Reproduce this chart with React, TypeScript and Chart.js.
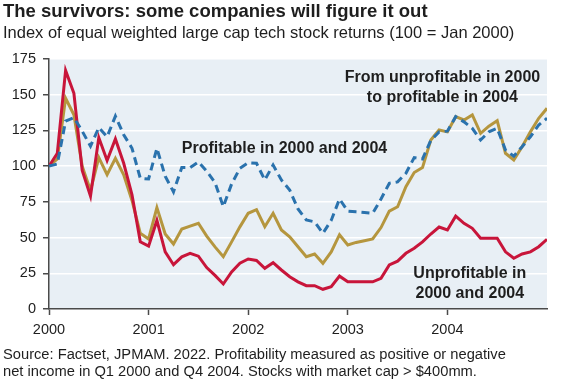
import React, { useEffect, useRef } from "react";
import { Chart, registerables } from "chart.js";

Chart.register(...registerables);

const titleText = "The survivors: some companies will figure it out";
const subtitleText = "Index of equal weighted large cap tech stock returns (100 = Jan 2000)";
const sourceLines = [
  "Source: Factset, JPMAM. 2022. Profitability measured as positive or negative",
  "net income in Q1 2000 and Q4 2004. Stocks with market cap > $400mm.",
];

const startYear = 2000;
const yearTicks = [0, 12, 24, 36, 48]; // month offsets of Jan 2000..Jan 2004
const yTicks = [0, 25, 50, 75, 100, 125, 150, 175];

// monthly index values, Jan 2000 .. Jan 2005
const profitable = [
  100, 101.5, 131.5, 134, 124.5, 114, 127, 120.5, 135, 122, 112.5, 91.5,
  91, 112.5, 93, 82, 99, 99, 103, 96.5, 88.5, 71.6, 87.5, 98.5,
  102.4, 102, 90.3, 100.8, 90.3, 83.3, 70, 62.3, 61, 53, 62, 77,
  68.5, 68, 67.5, 67, 77, 88, 89, 95, 106, 105, 118, 124,
  124.5, 134.6, 131, 126.5, 118.3, 124, 126.5, 111.3, 107, 113.6, 120.6, 128.8,
  133.5,
];
const turnedProfitable = [
  100, 105, 147.5, 136, 100, 83, 106, 94, 105.5, 94, 76, 53,
  49, 71, 52.5, 45.5, 56, 58, 60, 51, 43.5, 36.6, 47, 57.5,
  67, 69.5, 57.6, 67, 55.3, 50.6, 43.6, 36.6, 38.5, 32, 40, 52,
  44.8, 46.6, 47.8, 49, 57, 68.5, 71.6, 85.6, 95.5, 99, 118.3, 125.3,
  124, 134.6, 132.3, 135.8, 123, 128, 131.8, 109, 104.3, 113.6, 124, 133.5,
  140.5,
];
const unprofitable = [
  100, 109, 167, 151, 97, 79, 120, 104, 119, 102, 80, 47,
  44, 62, 40, 31, 36.5, 39, 37, 29, 23.5, 17.5, 26, 32,
  35, 34, 28.5, 32.4, 27.3, 22.6, 19, 16.3, 16.3, 13.8, 15.6, 23,
  19, 19, 19, 19, 21.5, 30.8, 33.5, 39, 42.5, 47, 52.5, 57.4,
  55.3, 65, 60, 56.5, 49.5, 49.5, 49.5, 40, 35.5, 38.5, 40, 43.6,
  48.8,
];

const annotations = [
  { lines: ["Profitable in 2000 and 2004"], x: 16, y: 112, align: "left" as CanvasTextAlign },
  { lines: ["From unprofitable in 2000", "to profitable in 2004"], x: 47.4, y: 161.7, align: "center" as CanvasTextAlign },
  { lines: ["Unprofitable in", "2000 and 2004"], x: 50.7, y: 24.5, align: "center" as CanvasTextAlign },
];

const FONT = "'Liberation Sans', Arial, Helvetica, sans-serif";
const TEXT = "#1e1e1e";
const AXIS = "#4a4a4a";

export default function App() {
  const ref = useRef<HTMLCanvasElement | null>(null);

  useEffect(() => {
    document.body.style.margin = "0";
    const canvas = ref.current;
    if (!canvas) return;

    const toPts = (arr: number[]) => arr.map((v, i) => ({ x: i, y: v }));

    const textPlugin = {
      id: "texts",
      beforeDraw(chart: any) {
        const { ctx, chartArea } = chart;
        ctx.save();
        ctx.fillStyle = "#e8eff5";
        ctx.fillRect(chartArea.left, chartArea.top, chartArea.right - chartArea.left, chartArea.bottom - chartArea.top);
        ctx.restore();
      },
      afterDraw(chart: any) {
        const { ctx, scales } = chart;
        ctx.save();
        ctx.fillStyle = TEXT;
        ctx.textBaseline = "middle";
        ctx.textAlign = "left";
        ctx.font = `bold 18.5px ${FONT}`;
        ctx.fillText(titleText, 3, 12);
        ctx.font = `16.5px ${FONT}`;
        ctx.fillText(subtitleText, 3, 33);
        ctx.font = `14.7px ${FONT}`;
        sourceLines.forEach((l, i) => ctx.fillText(l, 3, 355 + i * 17));

        ctx.font = `bold 16px ${FONT}`;
        annotations.forEach((a) => {
          const px = scales.x.getPixelForValue(a.x);
          const py = scales.y.getPixelForValue(a.y);
          ctx.textAlign = a.align;
          a.lines.forEach((l, i) => ctx.fillText(l, px, py + i * 19.5));
        });
        ctx.restore();
      },
    };

    const chart = new Chart(canvas, {
      type: "line",
      data: {
        datasets: [
          {
            label: "Profitable in 2000 and 2004",
            data: toPts(profitable),
            borderColor: "#2a72ad",
            borderWidth: 3,
            borderDash: [8, 5],
            pointRadius: 0,
            tension: 0,
            fill: false,
          },
          {
            label: "Unprofitable in 2000 and 2004",
            data: toPts(unprofitable),
            borderColor: "#c8153a",
            borderWidth: 3,
            pointRadius: 0,
            tension: 0,
            fill: false,
          },
          {
            label: "From unprofitable in 2000 to profitable in 2004",
            data: toPts(turnedProfitable),
            borderColor: "#b5963e",
            borderWidth: 3,
            pointRadius: 0,
            tension: 0,
            fill: false,
          },
        ],
      },
      options: {
        responsive: false,
        animation: false,
        events: [],
        layout: { padding: { top: 59, right: 30, left: 0, bottom: 0 } },
        plugins: {
          legend: { display: false },
          tooltip: { enabled: false },
          title: { display: false },
        },
        scales: {
          x: {
            type: "linear",
            min: 0,
            max: 60,
            afterFit: (s: any) => {
              s.height = 70;
            },
            afterBuildTicks: (s: any) => {
              s.ticks = yearTicks.map((v) => ({ value: v }));
            },
            ticks: {
              callback: (v: any) => String(startYear + Number(v) / 12),
              color: TEXT,
              font: { family: FONT, size: 14.5 },
              padding: 6,
              maxRotation: 0,
              autoSkip: false,
            },
            grid: {
              drawOnChartArea: false,
              drawTicks: true,
              tickLength: 6,
              tickColor: AXIS,
              tickWidth: 1.5,
            },
            border: { color: AXIS, width: 1.5 },
          },
          y: {
            min: 0,
            max: 175,
            afterFit: (s: any) => {
              s.width = 49;
            },
            afterBuildTicks: (s: any) => {
              s.ticks = yTicks.map((v) => ({ value: v }));
            },
            ticks: {
              color: TEXT,
              font: { family: FONT, size: 14.5 },
              padding: 7,
            },
            grid: {
              color: "#ffffff",
              lineWidth: 1.5,
              drawTicks: true,
              tickLength: 6,
              tickColor: AXIS,
              tickWidth: 1.5,
            },
            border: { color: AXIS, width: 1.5 },
          },
        },
      },
      plugins: [textPlugin],
    });

    return () => chart.destroy();
  }, []);

  return (
    <div style={{ width: 577, height: 379, background: "#ffffff" }}>
      <canvas ref={ref} width={577} height={379} style={{ display: "block", width: 577, height: 379 }} />
    </div>
  );
}
